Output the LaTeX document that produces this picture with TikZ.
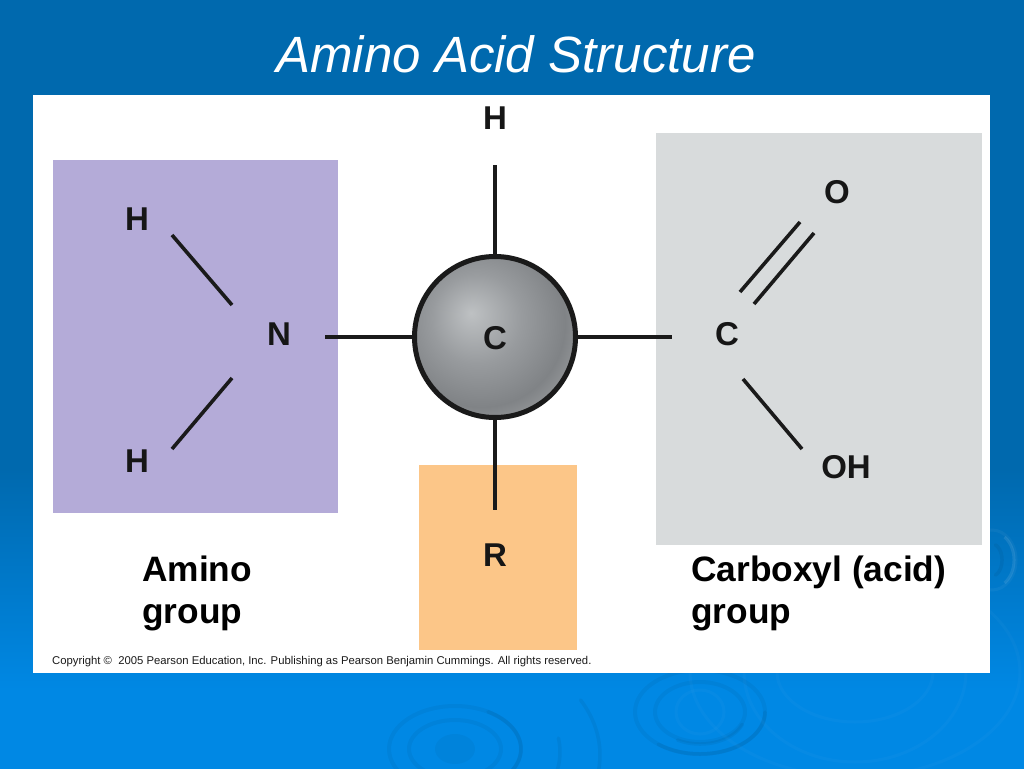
\documentclass[tikz,border=0pt]{standalone}
\usepackage{fontspec}
\setmainfont{Liberation Sans}
\definecolor{bgtop}{HTML}{0069AE}
\definecolor{bgbot}{HTML}{0088E4}
\definecolor{inkc}{HTML}{1A1A1A}
\definecolor{HLc}{HTML}{BEC1C3}
\definecolor{MIDc}{HTML}{989B9E}
\definecolor{DKc}{HTML}{808386}
\definecolor{EDc}{HTML}{A2A4A6}
\definecolor{purpleb}{HTML}{B4ABD8}
\definecolor{greyb}{HTML}{D8DBDC}
\definecolor{orangeb}{HTML}{FCC688}
\pgfdeclareverticalshading{slidebg}{100bp}{color(0bp)=(bgbot); color(30bp)=(bgbot); color(44.5bp)=(bgtop); color(100bp)=(bgtop)}
\pgfdeclareradialshading{ballc}{\pgfpoint{-7.5bp}{7.5bp}}{%
  color(0bp)=(HLc); color(14bp)=(MIDc); color(26bp)=(DKc); color(35bp)=(EDc); color(60bp)=(EDc)}
\tikzset{
  x=1pt,y=-1pt,
  bond/.style={draw=inkc,line width=3.6pt},
  atom/.style={font=\bfseries\fontsize{33}{33}\selectfont,text=inkc!85!black,inner sep=0pt},
  caption/.style={font=\bfseries\fontsize{35.3}{42}\selectfont,text=black,inner sep=0pt,anchor=north west,align=left},
  panel/.style={draw=none,inner sep=0pt,anchor=north west},
  ripple/.style={draw=white,opacity=.025,line width=3pt},
  rippled/.style={draw=black,opacity=.045,line width=4pt},
  ripplea/.style={draw=black,opacity=.05,line width=3.5pt,line cap=round}
}
\newcommand{\ringarc}[7]{% style, cx, cy, rx, ry, from, to
  \draw[#1] plot[domain=#6:#7,samples=40,smooth] ({#2+#4*cos(\x)},{#3+#5*sin(\x)});}
\begin{document}
\begin{tikzpicture}
\useasboundingbox (0,0) rectangle (1024,768);
\shade[shading=slidebg] (0,0) rectangle (1024,768);
% ripples on the slide background
\fill[black,opacity=.035] (455,749) ellipse (20 and 15);
\foreach \rx/\ry in {46/29,66/43}{
  \draw[rippled] (455,749) ellipse ({\rx} and {\ry});
}
\ringarc{ripplea}{455}{749}{66}{43}{-60}{80}
\ringarc{ripplea}{455}{752}{105}{80}{-10}{60}
\ringarc{ripplea}{455}{755}{145}{110}{-30}{40}
\draw[ripple] (700,712) ellipse (24 and 22);
\foreach \rx/\ry in {45/30,65/42}{
  \draw[rippled] (700,712) ellipse ({\rx} and {\ry});
}
\ringarc{ripplea}{700}{712}{65}{42}{0}{130}
\ringarc{ripplea}{700}{714}{45}{30}{20}{120}
\foreach \rx/\ry in {78/50,111/90,165/105}{
  \draw[ripple] (855,672) ellipse ({\rx} and {\ry});
}
\draw[ripple,opacity=.04] (992,560) ellipse (24 and 30);
\ringarc{ripple,opacity=.09}{992}{560}{22}{28}{-55}{55}
\ringarc{ripplea}{992}{560}{10}{16}{-70}{70}
\node[font=\itshape\fontsize{51}{51}\selectfont,text=white,inner sep=0pt] (title) at (516,54) {Amino Acid Structure};
\node[panel,fill=white,minimum width=957pt,minimum height=578pt] (sheet) at (33,95) {};
\node[panel,fill=purpleb,minimum width=285pt,minimum height=353pt] (amino) at (53,160) {};
\node[panel,fill=greyb,minimum width=326pt,minimum height=412pt] (carb) at (656,133) {};
\node[panel,fill=orangeb,minimum width=158pt,minimum height=185pt] (rbox) at (419,465) {};
% atoms
\node[atom] (hTop) at (495,118) {H};
\node[atom] (hUp) at (137,219) {H};
\node[atom] (hLow) at (137,461) {H};
\node[atom] (nAtom) at (279,334) {N};
\node[atom] (rAtom) at (495,555) {R};
\node[atom] (cAcid) at (727,334) {C};
\node[atom] (oAtom) at (837,192) {O};
\node[atom] (ohAtom) at (846,467) {OH};
% bond ends
\coordinate (bTop) at (495,165);
\coordinate (bLeft) at (325,337);
\coordinate (bRight) at (672,337);
\coordinate (bBot) at (495,510);
\coordinate (nUp) at (232,305);
\coordinate (hUpEnd) at (172,235);
\coordinate (nLow) at (232,378);
\coordinate (hLowEnd) at (172,449);
\coordinate (d1a) at (740,292);
\coordinate (d1b) at (800,222);
\coordinate (d2a) at (754,304);
\coordinate (d2b) at (814,233);
\coordinate (cOh) at (743,379);
\coordinate (ohEnd) at (802,449);
% central carbon
\node[circle,minimum size=161pt,inner sep=0pt,shading=ballc,draw=inkc,line width=5pt] (ball) at (495,337) {};
\node[atom] (cMid) at (495,338) {C};
\draw[bond] (ball) -- (bTop);
\draw[bond] (ball) -- (bLeft);
\draw[bond] (ball) -- (bRight);
\draw[bond] (ball) -- (bBot);
\draw[bond] (nUp) -- (hUpEnd);
\draw[bond] (nLow) -- (hLowEnd);
\draw[bond] (d1a) -- (d1b);
\draw[bond] (d2a) -- (d2b);
\draw[bond] (cOh) -- (ohEnd);
% captions
\node[caption] (capA) at (142,556) {Amino\\group};
\node[caption] (capC) at (691,556) {Carboxyl (acid)\\group};
\node[font=\fontsize{11.3}{12}\selectfont,text=inkc,inner sep=0pt,anchor=west] (copy) at (52,662) {Copyright ©\ \ 2005 Pearson Education, Inc. Publishing as Pearson Benjamin Cummings. All rights reserved.};
\end{tikzpicture}
\end{document}
